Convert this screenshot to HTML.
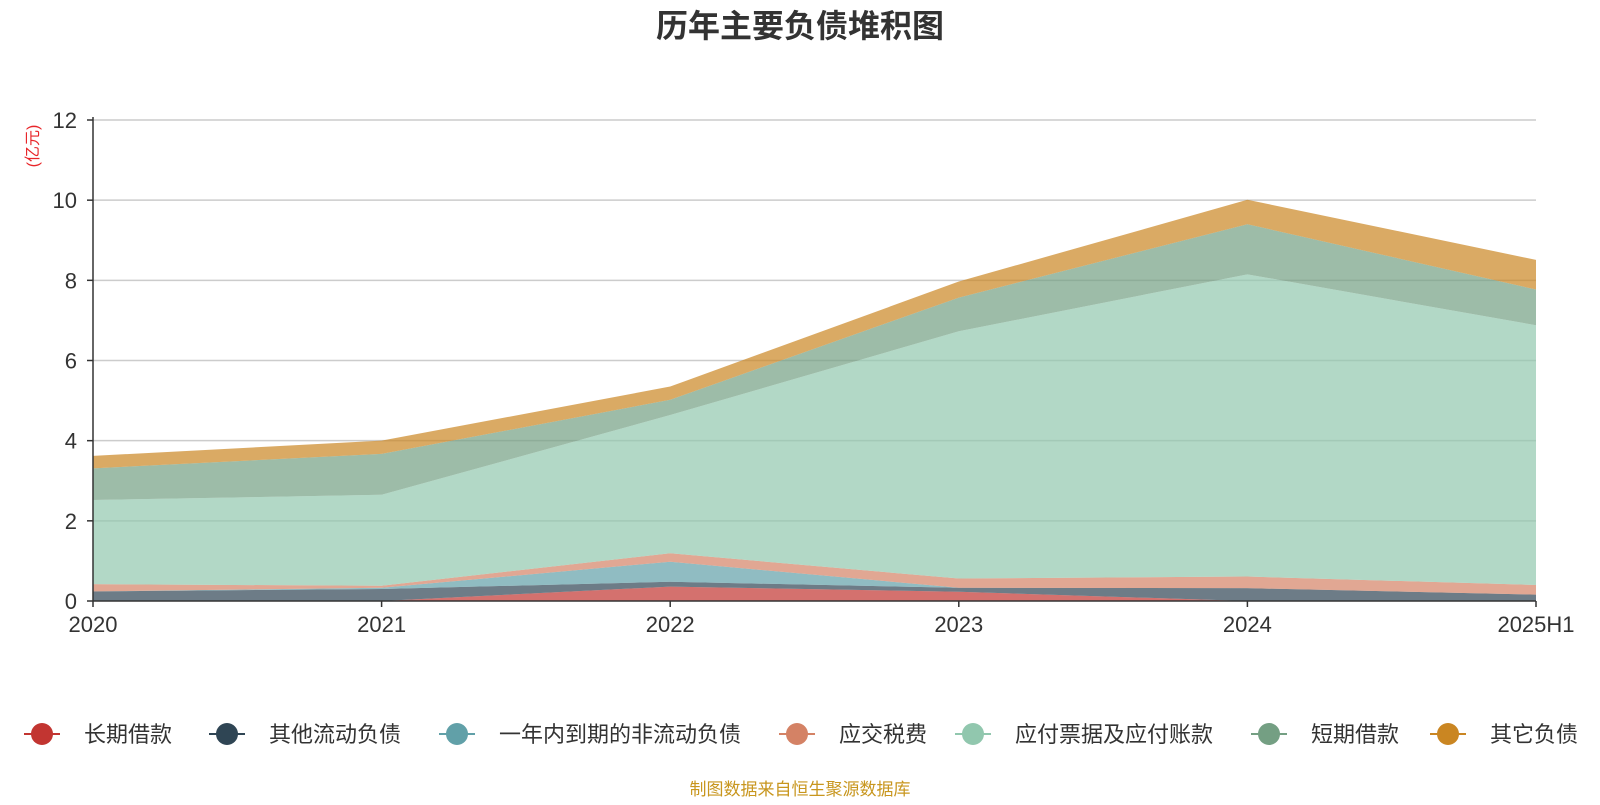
<!DOCTYPE html>
<html><head><meta charset="utf-8"><style>
body{margin:0;background:#fff;width:1600px;height:800px;overflow:hidden;font-family:"Liberation Sans","Noto Sans CJK SC",sans-serif}
</style></head><body>
<svg id="chart" width="1600" height="800" xmlns="http://www.w3.org/2000/svg" font-family="Liberation Sans, Noto Sans CJK SC, sans-serif">
<text x="800" y="37" text-anchor="middle" font-size="32" font-weight="bold" fill="#333">历年主要负债堆积图</text>
<text transform="translate(38,146) rotate(-90)" text-anchor="middle" font-size="16" fill="#e8262a">(亿元)</text>
<g id="grid"></g><g id="areas"></g><g id="axes"></g><g id="legend"></g>
<text x="800" y="795" text-anchor="middle" font-size="17" fill="#c8961e">制图数据来自恒生聚源数据库</text>
</svg>
<script>
const categories=["2020","2021","2022","2023","2024","2025H1"];
const seriesNames=["长期借款","其他流动负债","一年内到期的非流动负债","应交税费","应付票据及应付账款","短期借款","其它负债"];
const sLong=[0,0,0.36,0.23,0,0];
const sOtherCur=[0.24,0.3,0.12,0.1,0.32,0.16];
const sWithinYear=[0,0.03,0.5,0,0,0];
const sTax=[0.18,0.05,0.21,0.23,0.29,0.24];
const sPayable=[2.10,2.27,3.45,6.17,7.54,6.48];
const sShort=[0.79,1.02,0.38,0.84,1.25,0.89];
const sOther=[0.31,0.33,0.33,0.40,0.61,0.74];
const yTicks=[0,2,4,6,8,10,12];
const series=[sLong,sOtherCur,sWithinYear,sTax,sPayable,sShort,sOther];
const colors=["#c23531","#2f4554","#61a0a8","#d48265","#91c7ae","#749f83","#ca8622"];
const X0=93,X1=1536,Y0=601,Y1=120,YMAX=12;
const xs=i=>X0+(X1-X0)*i/(categories.length-1);
const ys=v=>Y0-(Y0-Y1)*v/YMAX;
const NS="http://www.w3.org/2000/svg";
function mk(t,a,p){const e=document.createElementNS(NS,t);for(const k in a)e.setAttribute(k,a[k]);p.appendChild(e);return e;}
const grid=document.getElementById('grid'),areas=document.getElementById('areas'),axes=document.getElementById('axes'),legend=document.getElementById('legend');
yTicks.forEach(v=>{
 if(v>0){const l=mk('line',{x1:X0,x2:X1,y1:ys(v),y2:ys(v),stroke:'#ccc','stroke-width':1.5},grid);
 
 }
 const t=mk('text',{x:X0-16,y:ys(v)+8,'text-anchor':'end','font-size':22,fill:'#333'},axes);t.textContent=v;
 
 
 mk('line',{x1:X0-6,x2:X0,y1:ys(v),y2:ys(v),stroke:'#333','stroke-width':1.5},axes);
});
let base=categories.map(()=>0);
series.forEach((s,si)=>{
 const top=base.map((b,i)=>b+s[i]);
 let d='M'+top.map((v,i)=>xs(i)+','+ys(v)).join(' L');
 for(let i=categories.length-1;i>=0;i--)d+=' L'+xs(i)+','+ys(base[i]);
 const p=mk('path',{d:d+'Z',fill:colors[si],'fill-opacity':0.7,stroke:'none'},areas);
 
 
 base=top;
});
mk('line',{x1:X0,x2:X0,y1:Y1-3,y2:Y0,stroke:'#333','stroke-width':1.5},axes);
mk('line',{x1:X0,x2:X1,y1:Y0,y2:Y0,stroke:'#333','stroke-width':1.5},axes);
categories.forEach((c,i)=>{
 mk('line',{x1:xs(i),x2:xs(i),y1:Y0,y2:Y0+6,stroke:'#333','stroke-width':1.5},axes);
 const t=mk('text',{x:xs(i),y:Y0+31,'text-anchor':i==0?'start':(i==categories.length-1?'end':'middle'),'font-size':22,fill:'#333'},axes);
 if(i==0)t.setAttribute('x',xs(i)-30);
 if(i==categories.length-1)t.setAttribute('x',xs(i)+40);
 t.setAttribute('text-anchor','middle');
 t.setAttribute('x',xs(i));
 t.textContent=c;
 
 
});
const lx=[42,227,457,797,973,1269,1448];
seriesNames.forEach((n,i)=>{
 const g=mk('g',{},legend);
 
 
 mk('line',{x1:lx[i]-18,x2:lx[i]+18,y1:734,y2:734,stroke:colors[i],'stroke-width':2},g);
 mk('circle',{cx:lx[i],cy:734,r:11,fill:colors[i]},g);
 const t=mk('text',{x:lx[i]+42,y:742,'font-size':22,fill:'#333'},g);t.textContent=n;
});
</script>
</body></html>
